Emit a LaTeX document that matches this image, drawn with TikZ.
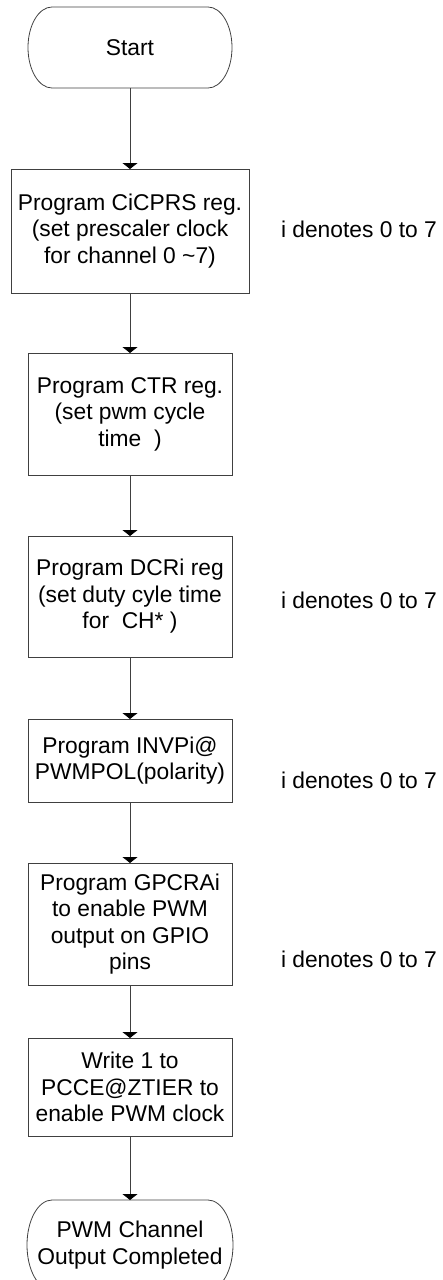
\documentclass[tikz,border=0pt]{standalone}
\usepackage{fontspec}
\setmainfont{Liberation Sans}
\usetikzlibrary{arrows.meta,calc}
\begin{document}
\begin{tikzpicture}[x=1pt,y=-1pt,
  every node/.style={inner sep=0pt,outer sep=0pt},
  txt/.style={font=\fontsize{22.8}{26.5}\selectfont,align=center},
  procbox/.style={txt,draw=black!75,line width=0.8pt,rectangle},
  termspace/.style={txt,rectangle},
  flow/.style={draw=black!75,line width=0.8pt,-{Triangle[width=15pt,length=6pt,color=black,fill=black]}},
  note/.style={font=\fontsize{22.8}{26.5}\selectfont,anchor=base west},
  termline/.style={draw=black!75,line width=0.8pt}
]
\useasboundingbox (0,0) rectangle (443,1280);

% Start terminal
\node[termspace,minimum width=204pt,minimum height=81pt] (start) at (130,47.5) {Start};
\draw[termline] (52,7) -- (208,7) arc[start angle=-90,end angle=90,x radius=24,y radius=40.5]
  -- (52,88) arc[start angle=90,end angle=270,x radius=24,y radius=40.5] -- cycle;

% Process boxes
\node[procbox,minimum width=238pt,minimum height=124pt] (b1) at (130,231)
  {Program CiCPRS reg.\\(set prescaler clock\\for channel 0 \textasciitilde7)};
\node[procbox,minimum width=204pt,minimum height=122pt] (b2) at (130,414)
  {Program CTR reg.\\(set pwm cycle\\time\ \ )};
\node[procbox,minimum width=204pt,minimum height=121pt] (b3) at (130,596.5)
  {Program DCRi reg\\(set duty cyle time\\for\ \ CH* )};
\node[procbox,minimum width=204pt,minimum height=83pt] (b4) at (130,760.5)
  {Program INVPi@\\PWMPOL(polarity)};
\node[procbox,minimum width=204pt,minimum height=122pt] (b5) at (130,924)
  {Program GPCRAi\\to enable PWM\\output on GPIO\\pins};
\node[procbox,minimum width=204pt,minimum height=98pt] (b6) at (130,1087)
  {Write 1 to\\PCCE@ZTIER to\\enable PWM clock};

% End terminal
\node[termspace,minimum width=206pt,minimum height=90pt] (end) at (130,1245)
  {PWM Channel\\Output Completed};
\begin{scope}
\clip (0,0) rectangle (443,1280);
\draw[termline] (52,1200) -- (208,1200) arc[start angle=-90,end angle=90,x radius=25,y radius=45]
  -- (52,1290) arc[start angle=90,end angle=270,x radius=25,y radius=45] -- cycle;
\end{scope}

% Connectors
\draw[flow] (start.south) -- (b1.north);
\draw[flow] (b1.south) -- (b2.north);
\draw[flow] (b2.south) -- (b3.north);
\draw[flow] (b3.south) -- (b4.north);
\draw[flow] (b4.south) -- (b5.north);
\draw[flow] (b5.south) -- (b6.north);
\draw[flow] (b6.south) -- (end.north);

% Notes
\node[note] (n1) at (281,237) {i denotes 0 to 7};
\node[note] (n2) at (281,608) {i denotes 0 to 7};
\node[note] (n3) at (281,788) {i denotes 0 to 7};
\node[note] (n4) at (281,967) {i denotes 0 to 7};
\end{tikzpicture}
\end{document}
